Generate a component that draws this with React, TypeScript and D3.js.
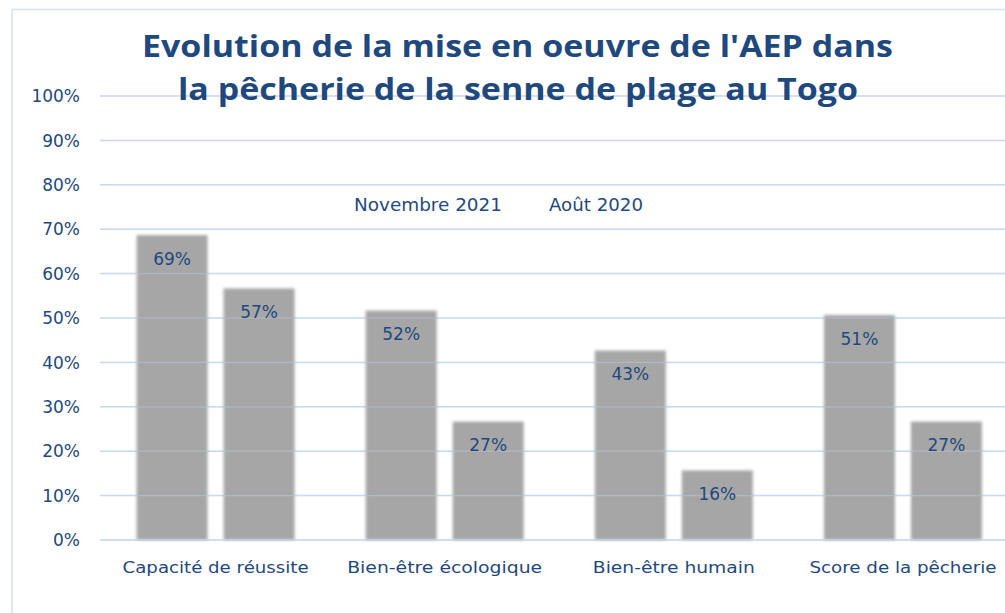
import React from "react";
import * as d3 from "d3";

const categories = ["Capacité de réussite", "Bien-être écologique", "Bien-être humain", "Score de la pêcherie"];
const seriesNames = ["Novembre 2021", "Août 2020"];
const nov2021 = [69, 52, 43, 51];
const aout2020 = [57, 27, 16, 27];
const yTicks = [0, 10, 20, 30, 40, 50, 60, 70, 80, 90, 100];
const titleLines = ["Evolution de la mise en oeuvre de l'AEP dans", "la pêcherie de la senne de plage au Togo"];

const W = 1005;
const H = 613;
const BLUE = "#1f497d";
const GRID = "#c9daf0";

export default function App() {
  const x0 = d3.scaleBand<string>().domain(categories).range([101, 1017.5]).paddingInner(0).paddingOuter(0);
  const bw = x0.bandwidth();
  const x1 = d3
    .scaleBand<string>()
    .domain(seriesNames)
    .range([bw / 2 - 79, bw / 2 + 79])
    .paddingInner(16 / 87)
    .paddingOuter(0);
  const y = d3.scaleLinear().domain([0, 100]).range([540, 96]);
  const values = [nov2021, aout2020];
  const catLabelWidths = [186, 195, 162, 187];

  return (
    <svg width={W} height={H} style={{ position: "absolute", left: 0, top: 0, display: "block", background: "#fff" }}>
      <defs>
        <filter id="soft" x="-10%" y="-10%" width="120%" height="120%">
          <feGaussianBlur stdDeviation="1.8" />
        </filter>
        <clipPath id="clip">
          <rect x={0} y={0} width={W} height={H} />
        </clipPath>
      </defs>
      {/* frame */}
      <line x1={12} x2={W} y1={9.5} y2={9.5} stroke="#d6e1ef" strokeWidth={1.5} />
      <line x1={12} x2={12} y1={9.5} y2={H} stroke="#d6e1ef" strokeWidth={1.5} />

      {/* gridlines under bars */}
      {yTicks.map((t) => (
        <line key={"g" + t} x1={100} x2={W} y1={y(t)} y2={y(t)} stroke={GRID} strokeWidth={1.5} />
      ))}

      {/* bars */}
      <g clipPath="url(#clip)">
        {categories.map((c, ci) =>
          seriesNames.map((s, si) => {
            const v = values[si][ci];
            const bx = (x0(c) ?? 0) + (x1(s) ?? 0);
            return (
              <rect
                key={c + s}
                x={bx}
                y={y(v) + 1.5}
                width={x1.bandwidth()}
                height={y(0) - y(v) - 1.5}
                fill="#a6a6a6"
                filter="url(#soft)"
              />
            );
          })
        )}
      </g>

      {/* gridlines faint over bars */}
      {yTicks.map((t) => (
        <line key={"go" + t} x1={100} x2={W} y1={y(t)} y2={y(t)} stroke={GRID} strokeWidth={1.2} opacity={t === 0 ? 1 : 0.35} />
      ))}

      {/* data labels */}
      {categories.map((c, ci) =>
        seriesNames.map((s, si) => {
          const v = values[si][ci];
          const cx = (x0(c) ?? 0) + (x1(s) ?? 0) + x1.bandwidth() / 2;
          return (
            <text
              key={"l" + c + s}
              x={cx}
              y={y(v) + 31}
              textAnchor="middle"
              fontFamily="DejaVu Sans"
              fontSize={17}
              fill={BLUE}
            >
              {v}%
            </text>
          );
        })
      )}

      {/* y tick labels */}
      {yTicks.map((t) => (
        <text
          key={"t" + t}
          x={80}
          y={y(t)}
          dy="0.36em"
          textAnchor="end"
          fontFamily="DejaVu Sans"
          fontSize={17}
          fill={BLUE}
        >
          {t}%
        </text>
      ))}

      {/* category labels */}
      {categories.map((c, ci) => (
        <text
          key={"c" + c}
          x={(x0(c) ?? 0) + bw / 2}
          y={573}
          textAnchor="middle"
          fontFamily="DejaVu Sans"
          fontSize={16}
          fill={BLUE}
          textLength={catLabelWidths[ci]}
          lengthAdjust="spacingAndGlyphs"
        >
          {c}
        </text>
      ))}

      {/* legend */}
      <text x={354} y={211} fontFamily="DejaVu Sans" fontSize={17} fill={BLUE} textLength={148} lengthAdjust="spacingAndGlyphs">
        {seriesNames[0]}
      </text>
      <text x={549} y={211} fontFamily="DejaVu Sans" fontSize={17} fill={BLUE} textLength={94} lengthAdjust="spacingAndGlyphs">
        {seriesNames[1]}
      </text>

      {/* title */}
      <text x={517.5} y={57} textAnchor="middle" fontFamily="Open Sans" fontWeight={700} fontSize={31} fill={BLUE} textLength={751} lengthAdjust="spacingAndGlyphs">
        {titleLines[0]}
      </text>
      <text x={518} y={100} textAnchor="middle" fontFamily="Open Sans" fontWeight={700} fontSize={31} fill={BLUE} textLength={680} lengthAdjust="spacingAndGlyphs">
        {titleLines[1]}
      </text>
    </svg>
  );
}
